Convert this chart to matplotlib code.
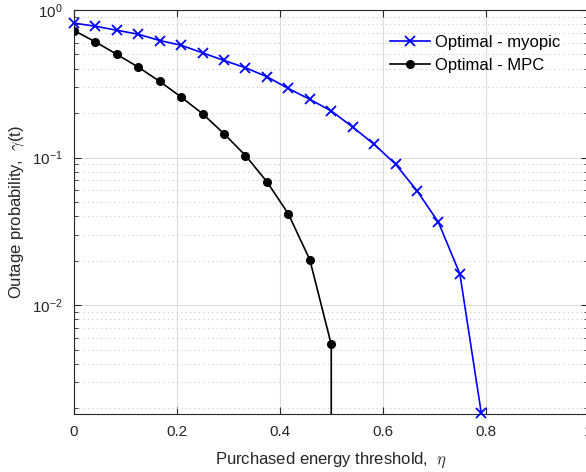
import numpy as np
import matplotlib
matplotlib.use("Agg")
import matplotlib.pyplot as plt
from matplotlib.ticker import LogLocator, FixedLocator, NullFormatter

plt.rcParams['font.family'] = ['Liberation Sans', 'DejaVu Sans']
plt.rcParams['mathtext.fontset'] = 'cm'

# Data (eta = k/24)
eta_myopic = [k / 24 for k in range(20)]
gamma_myopic = [0.815, 0.776, 0.729, 0.685, 0.621, 0.577, 0.512, 0.455, 0.406, 0.353,
                0.294, 0.248, 0.207, 0.161, 0.123, 0.0902, 0.0596, 0.0364, 0.0163, 0.00185]
eta_mpc = [k / 24 for k in range(13)] + [0.5]
gamma_mpc = [0.726, 0.608, 0.500, 0.410, 0.328, 0.257, 0.198, 0.145, 0.1032, 0.0686,
             0.0415, 0.0203, 0.00542, 1e-7]

xticks = [0, 0.2, 0.4, 0.6, 0.8, 1]
xticklabels = ['0', '0.2', '0.4', '0.6', '0.8', '1']

fig = plt.figure(figsize=(5.86, 4.72), dpi=100)
ax = fig.add_axes([74 / 586, 58 / 472, 514.5 / 586, 404 / 472])
ax.set_yscale('log')

ax.plot(eta_myopic, gamma_myopic, color='#0000ff', lw=1.2, marker='x', ms=7, mew=1.3,
        label='Optimal - myopic', clip_on=False, zorder=3)
ax.plot(eta_mpc, gamma_mpc, color='black', lw=1.2, marker='o', ms=5.5,
        markevery=list(range(13)), label='Optimal - MPC', zorder=3)

ax.set_xlim(0, 1)
ax.set_ylim(1.83e-3, 1)
ax.set_xticks(xticks)
ax.set_xticklabels(xticklabels)
ax.yaxis.set_major_locator(FixedLocator([1e-2, 1e-1, 1]))
ax.yaxis.set_minor_locator(LogLocator(base=10, subs=np.arange(2, 10), numticks=20))
ax.yaxis.set_minor_formatter(NullFormatter())

gray = '#262626'
for s in ax.spines.values():
    s.set_color(gray)
    s.set_linewidth(0.8)
ax.tick_params(which='both', direction='in', top=True, right=True, colors=gray,
               labelsize=11, labelcolor=gray)
ax.tick_params(which='major', length=5, pad=8)
ax.tick_params(which='minor', length=3)
ax.tick_params(axis='x', which='minor', bottom=False, top=False)

ax.grid(which='major', color='#dcdcdc', lw=0.8, ls='-')
ax.grid(which='minor', axis='y', color='#c8c8c8', lw=0.8, ls=(0, (1, 3)))
ax.set_axisbelow(True)

ax.set_xlabel(r'Purchased energy threshold,  $\eta$', fontsize=12, color=gray, labelpad=8)
ax.set_ylabel(r'Outage probability,  $\gamma$(t)', fontsize=12, color=gray, labelpad=4)

leg = ax.legend(loc='upper right', bbox_to_anchor=(0.975, 0.975), frameon=False,
                fontsize=12, handlelength=2.4, handletextpad=0.35, labelspacing=0.45)

fig.savefig('out.png', dpi=100)
